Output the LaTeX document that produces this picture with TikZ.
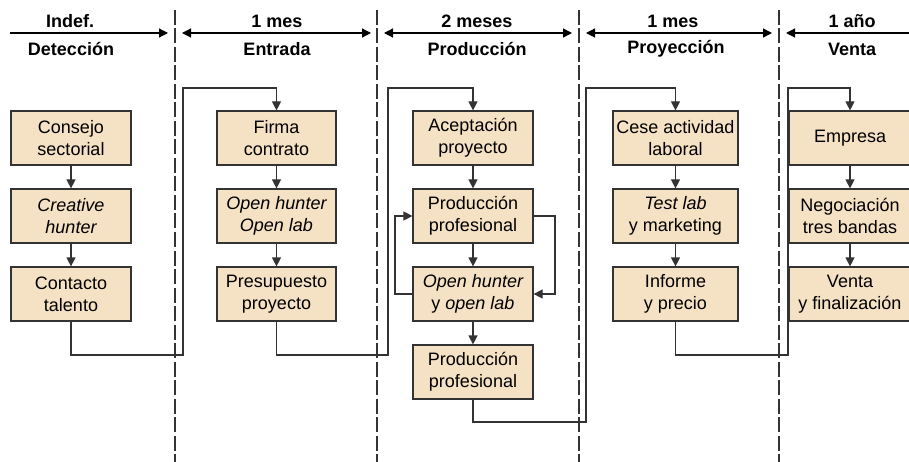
\documentclass[tikz,border=0pt]{standalone}
\usepackage{fontspec}
\setmainfont{Liberation Sans}
\usetikzlibrary{arrows.meta}
\definecolor{boxfill}{HTML}{F5E1C3}
\definecolor{linec}{HTML}{333333}
\tikzset{
  stepbox/.style={draw=linec, fill=boxfill, line width=1.2pt, minimum width=120pt, minimum height=54pt, inner sep=1pt, align=center, font=\fontsize{18}{22}\selectfont},
  conn/.style={draw=linec, line width=1.2pt, -{Triangle[length=9pt,width=9pt]}},
  plain/.style={draw=linec, line width=1.2pt},
  sep/.style={draw=linec, line width=1.3pt, dash pattern=on 15pt off 3.5pt},
  hdr/.style={font=\fontsize{18}{22}\selectfont\bfseries, text=black},
  harrow/.style={draw=black, line width=1.2pt, -{Triangle[length=9pt,width=9pt]}},
  harrow2/.style={draw=black, line width=1.2pt, {Triangle[length=9pt,width=9pt]}-{Triangle[length=9pt,width=9pt]}},
  harrowl/.style={draw=black, line width=1.2pt, {Triangle[length=9pt,width=9pt]}-}
}
\begin{document}
\begin{tikzpicture}[x=1pt,y=-1pt]
\useasboundingbox (0,0) rectangle (909,462);
% separators
\foreach \xx/\nm in {175/s1,377/s2,579/s3,779/s4}{
  \coordinate (\nm t) at (\xx,10);
  \coordinate (\nm b) at (\xx,462);
  \draw[sep] (\nm t) -- (\nm b);
}
% header
\node[hdr] (h1) at (70,21) {Indef.};
\node[hdr] (h2) at (277,21) {1 mes};
\node[hdr] (h3) at (477,21) {2 meses};
\node[hdr] (h4) at (673,21) {1 mes};
\node[hdr] (h5) at (852,21) {1 año};
\node[hdr] (t1) at (71,49) {Detección};
\node[hdr] (t2) at (277,49) {Entrada};
\node[hdr] (t3) at (477,49) {Producción};
\node[hdr] (t4) at (676,49) {Proyección};
\node[hdr] (t5) at (852,49) {Venta};
\coordinate (a1s) at (10,33);  \coordinate (a1e) at (168,33);
\coordinate (a2s) at (182,33); \coordinate (a2e) at (371,33);
\coordinate (a3s) at (384,33); \coordinate (a3e) at (572,33);
\coordinate (a4s) at (586,33); \coordinate (a4e) at (772,33);
\coordinate (a5s) at (786,33); \coordinate (a5e) at (912,33);
\draw[harrow] (a1s) -- (a1e);
\draw[harrow2] (a2s) -- (a2e);
\draw[harrow2] (a3s) -- (a3e);
\draw[harrow2] (a4s) -- (a4e);
\draw[harrowl] (a5s) -- (a5e);
% column 1
\node[stepbox] (cs) at (71,138) {Consejo\\sectorial};
\node[stepbox] (ch) at (71,216) {\itshape Creative\\\itshape hunter};
\node[stepbox] (ct) at (71,294) {Contacto\\talento};
% column 2
\node[stepbox, minimum width=119pt] (fc) at (276.5,138) {Firma\\contrato};
\node[stepbox, minimum width=119pt] (oo) at (276.5,216) {\itshape Open hunter\\\itshape Open lab};
\node[stepbox, minimum width=119pt] (pp) at (276.5,294) {Presupuesto\\proyecto};
% column 3
\node[stepbox] (ap) at (473,138) {Aceptación\\proyecto};
\node[stepbox] (pf) at (473,216) {Producción\\profesional};
\node[stepbox] (oh) at (473,294) {\itshape Open hunter\\y \itshape open lab};
\node[stepbox] (pf2) at (473,372) {Producción\\profesional};
% column 4
\node[stepbox, minimum width=125pt] (ce) at (675.5,138) {Cese actividad\\laboral};
\node[stepbox, minimum width=125pt] (tl) at (675.5,216) {\itshape Test lab\\y marketing};
\node[stepbox, minimum width=125pt] (ip) at (675.5,294) {Informe\\y precio};
% column 5
\node[stepbox, minimum width=122pt] (em) at (850,138) {Empresa};
\node[stepbox, minimum width=122pt] (nt) at (850,216) {Negociación\\tres bandas};
\node[stepbox, minimum width=122pt] (vf) at (850,294) {Venta\\y finalización};
% vertical arrows within columns
\draw[conn] (cs) -- (ch);
\draw[conn] (ch) -- (ct);
\draw[conn] (fc) -- (oo);
\draw[conn] (oo) -- (pp);
\draw[conn] (ap) -- (pf);
\draw[conn] (pf) -- (oh);
\draw[conn] (oh) -- (pf2);
\draw[conn] (ce) -- (tl);
\draw[conn] (tl) -- (ip);
\draw[conn] (em) -- (nt);
\draw[conn] (nt) -- (vf);
% loops
\coordinate (lpl) at (395,294);
\coordinate (lpr) at (555,216);
\draw[conn] (oh.west) -- (lpl) |- (pf.west);
\draw[conn] (pf.east) -- (lpr) |- (oh.east);
% cross-column connectors
\coordinate (c1a) at (183,355); \coordinate (c1b) at (183,88);
\coordinate (c2a) at (388,355); \coordinate (c2b) at (388,88);
\coordinate (c3a) at (586,422); \coordinate (c3b) at (586,88);
\coordinate (c4a) at (788,355); \coordinate (c4b) at (788,88);
\draw[conn] (ct.south) |- (c1a) -- (c1b) -| (fc.north);
\draw[conn] (pp.south) |- (c2a) -- (c2b) -| (ap.north);
\draw[conn] (pf2.south) |- (c3a) -- (c3b) -| (ce.north);
\draw[conn] (ip.south) |- (c4a) -- (c4b) -| (em.north);
\end{tikzpicture}
\end{document}
